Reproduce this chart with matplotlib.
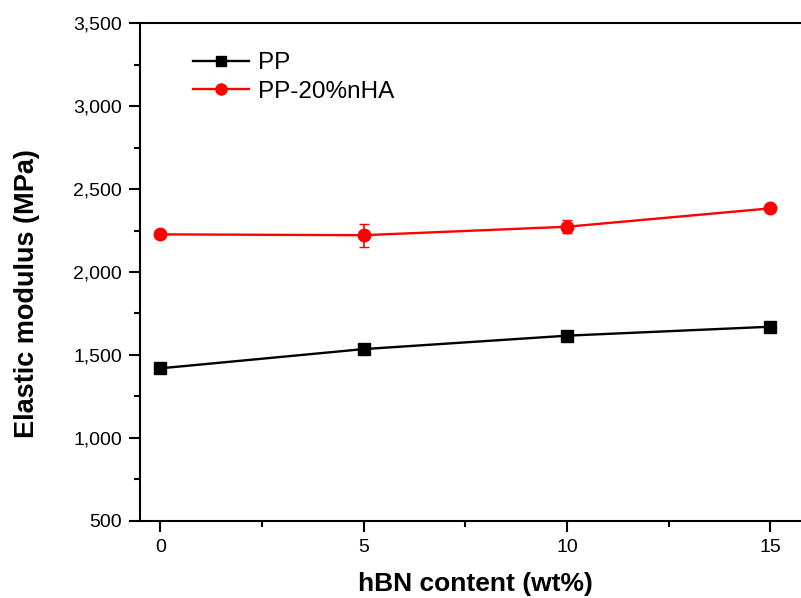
import matplotlib.pyplot as plt
from matplotlib.lines import Line2D
from matplotlib.ticker import MultipleLocator, FuncFormatter

plt.rcParams['font.family'] = ['Liberation Sans', 'DejaVu Sans']

hbn_wt = [0, 5, 10, 15]
pp_modulus = [1419, 1535, 1616, 1670]
pp_err = [30, 15, 15, 15]
pp_nha_modulus = [2227, 2222, 2273, 2384]
pp_nha_err = [20, 70, 40, 15]

fig = plt.figure(figsize=(8.01, 5.98), dpi=100)
ax = fig.add_axes([140 / 801, 1 - 520.7 / 598, 1 - 140 / 801, (520.7 - 23.3) / 598])

ax.errorbar(hbn_wt, pp_modulus, yerr=pp_err, color='black', marker='s', markersize=8.5,
            linewidth=1.7, capsize=3.5, elinewidth=1.2)
ax.errorbar(hbn_wt, pp_nha_modulus, yerr=pp_nha_err, color='#ff0000', marker='o', markersize=9,
            linewidth=1.7, capsize=3.5, elinewidth=1.2)

ax.set_xlim(-0.5, 15.75)
ax.set_ylim(500, 3500)
ax.xaxis.set_major_locator(MultipleLocator(5))
ax.xaxis.set_minor_locator(MultipleLocator(2.5))
ax.yaxis.set_major_locator(MultipleLocator(500))
ax.yaxis.set_minor_locator(MultipleLocator(250))
ax.yaxis.set_major_formatter(FuncFormatter(lambda v, p: '{:,.0f}'.format(v)))

ax.tick_params(which='major', direction='out', length=8, width=1.5, labelsize=14, pad=5)
ax.tick_params(which='minor', direction='out', length=4.5, width=1.5)
ax.spines['right'].set_visible(False)
for s in ['left', 'bottom', 'top']:
    ax.spines[s].set_linewidth(1.5)

ax.set_xlabel('hBN content (wt%)', fontsize=19, fontweight='bold')
ax.set_ylabel('Elastic modulus (MPa)', fontsize=19.5, fontweight='bold')
ax.xaxis.set_label_coords(0.507, -0.104)
ax.yaxis.set_label_coords(-0.151, 0.456)

handles = [
    Line2D([], [], color='black', marker='s', markersize=7, linewidth=1.7),
    Line2D([], [], color='#ff0000', marker='o', markersize=8, linewidth=1.7),
]
ax.legend(handles, ['PP', 'PP-20%nHA'], loc='upper left', bbox_to_anchor=(0.065, 0.961),
          frameon=False, fontsize=17.5, handlelength=2.3, handletextpad=0.4, labelspacing=0.25,
          borderaxespad=0)

fig.savefig('out.png', dpi=100)
